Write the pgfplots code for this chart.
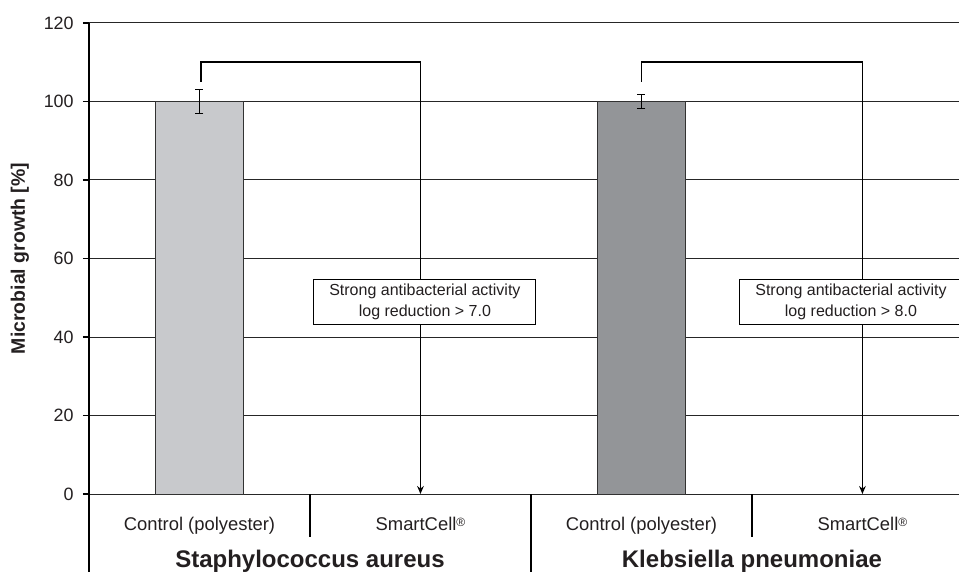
\documentclass[border=0pt]{standalone}
\usepackage{pgfplots}
\pgfplotsset{compat=1.18}
\usepackage{fontspec}
\setmainfont{Liberation Sans}
\usetikzlibrary{arrows.meta}
\definecolor{barA}{RGB}{200,201,204}
\definecolor{barB}{RGB}{147,149,152}
\definecolor{edge}{RGB}{50,50,50}
\definecolor{txt}{RGB}{35,31,32}
\begin{document}
\begin{tikzpicture}
\useasboundingbox (-66.75pt,-57.75pt) rectangle (652.5pt,370.5pt);
\begin{axis}[
  at={(0pt,0pt)}, anchor=south west,
  scale only axis, width=652.5pt, height=353.25pt,
  xmin=-0.5, xmax=3.437, ymin=0, ymax=120,
  axis x line=none, axis y line*=left,
  ytick={0,20,...,120}, tick align=outside, major tick length=4.5pt,
  ymajorgrids, grid style={black!85, line width=0.75pt},
  axis line style={black, line width=0.9pt},
  every tick/.style={black, line width=0.9pt},
  /pgf/number format/assume math mode=true,
  yticklabel style={font=\fontsize{13.4}{15}\selectfont, text=txt, xshift=-3.5pt},
  ylabel={\textbf{Microbial growth [\%]}},
  ylabel style={at={(axis description cs:-0.0793,0.5)}, anchor=center, font=\fontsize{14.6}{16}\selectfont, text=txt},
  clip=false,
  ybar, bar width=0.395, bar shift=0pt,
]
\addplot[fill=barA, draw=edge, line width=0.75pt,
  error bars/.cd, y dir=both, y explicit,
  error bar style={black, line width=0.8pt}, error mark options={rotate=90, mark size=3pt, black, line width=0.8pt}]
  coordinates {(0,100) +- (0,3.0)};
\addplot[fill=barB, draw=edge, line width=0.75pt,
  error bars/.cd, y dir=both, y explicit,
  error bar style={black, line width=0.8pt}, error mark options={rotate=90, mark size=3pt, black, line width=0.8pt}]
  coordinates {(2,100) +- (0,1.7)};
\addplot[draw=none, fill=none] coordinates {(1,0) (3,0)};
% brackets and arrows
\draw[black, line width=1.4pt, -{Stealth[length=6pt,width=5pt]}]
  (axis cs:0.007,105) -- (axis cs:0.007,110) -- (axis cs:1.0,110) -- (axis cs:1.0,0);
\draw[black, line width=1.4pt, -{Stealth[length=6pt,width=5pt]}]
  (axis cs:2.0,105) -- (axis cs:2.0,110) -- (axis cs:3.0,110) -- (axis cs:3.0,0);
\node[draw=black, fill=white, line width=0.8pt, minimum width=166.5pt, minimum height=33.75pt,
  align=center, font=\fontsize{12}{15.5}\selectfont, text=txt, inner sep=0pt]
  at (axis cs:1.02,49) {Strong antibacterial activity\\log reduction > 7.0};
\node[draw=black, fill=white, line width=0.8pt, minimum width=166.5pt, minimum height=33.75pt,
  align=center, font=\fontsize{12}{15.5}\selectfont, text=txt, inner sep=0pt]
  at (axis cs:2.948,49) {Strong antibacterial activity\\log reduction > 8.0};
% category table
\draw[black, line width=0.9pt] (axis cs:-0.5,0) -- (axis cs:-0.5,-20);
\draw[black, line width=0.9pt] (axis cs:1.5,0) -- (axis cs:1.5,-20);
\draw[black, line width=0.9pt] (axis cs:0.5,0) -- (axis cs:0.5,-11);
\draw[black, line width=0.9pt] (axis cs:2.5,0) -- (axis cs:2.5,-11);
\node[anchor=base, font=\fontsize{13.8}{15}\selectfont, text=txt] at (axis cs:0,-9.2) {Control (polyester)};
\node[anchor=base, font=\fontsize{13.8}{15}\selectfont, text=txt] at (axis cs:2,-9.2) {Control (polyester)};
\node[anchor=base, font=\fontsize{13.8}{15}\selectfont, text=txt] at (axis cs:1,-9.2) {SmartCell{\fontsize{9}{10}\selectfont\raisebox{0.55ex}{®}}};
\node[anchor=base, font=\fontsize{13.8}{15}\selectfont, text=txt] at (axis cs:3,-9.2) {SmartCell{\fontsize{9}{10}\selectfont\raisebox{0.55ex}{®}}};
\node[anchor=base, font=\bfseries\fontsize{18}{20}\selectfont, text=txt] at (axis cs:0.5,-18.7) {Staphylococcus aureus};
\node[anchor=base, font=\bfseries\fontsize{18}{20}\selectfont, text=txt] at (axis cs:2.5,-18.7) {Klebsiella pneumoniae};
\end{axis}
\end{tikzpicture}
\end{document}
